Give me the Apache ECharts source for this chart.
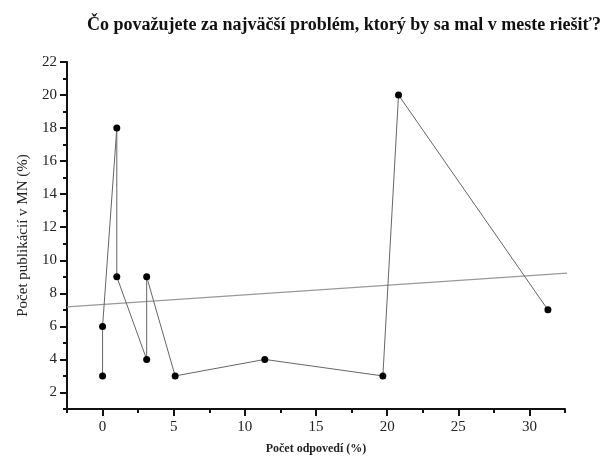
<!DOCTYPE html>
<html><head><meta charset="utf-8">
<script src="https://cdn.jsdelivr.net/npm/echarts@6/dist/echarts.min.js"></script>
<style>html,body{margin:0;padding:0;background:#fff}#c{width:604px;height:456px}</style>
</head><body><div id="c"></div>
<script>
const titleText = 'Čo považujete za najväčší problém, ktorý by sa mal v meste riešiť?';
const xName = 'Počet odpovedí (%)';
const yName = 'Počet publikácií v MN (%)';
const xVals = [0, 0, 1, 1, 3.1, 3.1, 5.1, 11.4, 19.7, 20.8, 31.3];
const yVals = [3, 6, 18, 9, 4, 9, 3, 4, 3, 20, 7];
const fitX = [-2.5, 33.9];
const fitY = [7.18, 9.3];
const xMajorTicks = [0, 5, 10, 15, 20, 25, 30];
const xMinorTicks = [-2.5, 2.5, 7.5, 12.5, 17.5, 22.5, 27.5, 32.5];
const yMajorTicks = [2, 4, 6, 8, 10, 12, 14, 16, 18, 20, 22];
const yMinorTicks = [1, 3, 5, 7, 9, 11, 13, 15, 17, 19, 21];

const font = 'Liberation Serif';
const chart = echarts.init(document.getElementById('c'), null, {renderer: 'canvas'});
const axisLineStyle = {color: '#111', width: 2};
chart.setOption({
  animation: false,
  backgroundColor: '#fff',
  title: {
    text: titleText, left: 339, top: 11, textAlign: 'center',
    textStyle: {fontFamily: font, fontWeight: 'bold', fontSize: 18, color: '#111'}
  },
  grid: {left: 67, right: 39, top: 62, bottom: 47, outerBoundsMode: 'none', containLabel: false},
  xAxis: [{
    type: 'value', min: -2.5, max: 32.5,
    name: xName, nameLocation: 'middle', nameGap: 34,
    nameTextStyle: {fontFamily: font, fontWeight: 'bold', fontSize: 12, color: '#222'},
    axisLine: {show: true, onZero: false, lineStyle: axisLineStyle},
    axisTick: {show: true, customValues: xMajorTicks, length: 7, lineStyle: {color: '#111', width: 2}},
    axisLabel: {customValues: xMajorTicks, fontFamily: font, fontSize: 15, color: '#222', margin: 11},
    splitLine: {show: false}
  }, {
    type: 'value', min: -2.5, max: 32.5, position: 'bottom',
    axisLine: {show: false, onZero: false},
    axisTick: {show: true, customValues: xMinorTicks, length: 4, lineStyle: {color: '#111', width: 2}},
    axisLabel: {show: false}, splitLine: {show: false}
  }],
  yAxis: [{
    type: 'value', min: 1, max: 22,
    name: yName, nameLocation: 'middle', nameGap: 36, nameRotate: 90,
    nameTextStyle: {fontFamily: font, fontSize: 15, color: '#222'},
    axisLine: {show: true, onZero: false, lineStyle: axisLineStyle},
    axisTick: {show: true, customValues: yMajorTicks, length: 7, lineStyle: {color: '#111', width: 2}},
    axisLabel: {customValues: yMajorTicks, fontFamily: font, fontSize: 15, color: '#222', margin: 10},
    splitLine: {show: false}
  }, {
    type: 'value', min: 1, max: 22, position: 'left',
    axisLine: {show: false, onZero: false},
    axisTick: {show: true, customValues: yMinorTicks, length: 4, lineStyle: {color: '#111', width: 2}},
    axisLabel: {show: false}, splitLine: {show: false}
  }],
  series: [{
    type: 'line', xAxisIndex: 0, yAxisIndex: 0,
    data: fitX.map((x, i) => [x, fitY[i]]),
    showSymbol: false, clip: false,
    lineStyle: {color: '#999', width: 1.2}, z: 1
  }, {
    type: 'line', xAxisIndex: 0, yAxisIndex: 0,
    data: xVals.map((x, i) => [x, yVals[i]]),
    symbol: 'circle', symbolSize: 7, showSymbol: true,
    itemStyle: {color: '#000'},
    lineStyle: {color: '#666', width: 1}, z: 2
  }]
});
</script>
</body></html>
